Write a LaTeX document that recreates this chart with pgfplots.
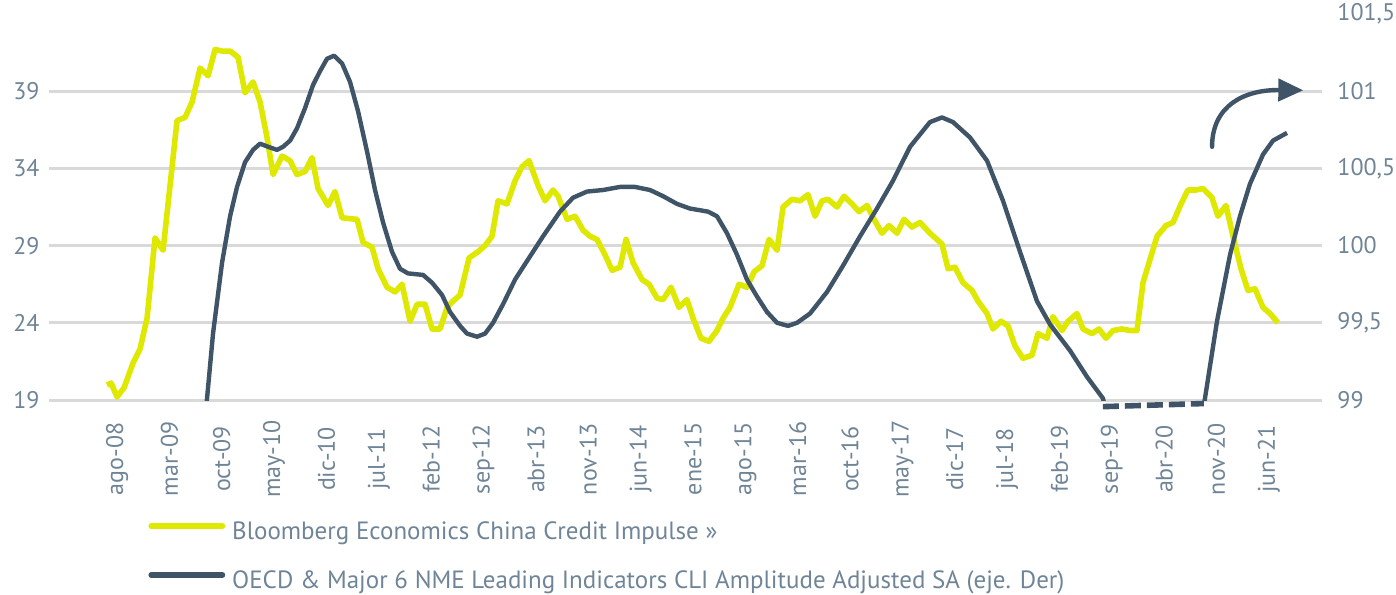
\documentclass[border=0pt]{standalone}
\usepackage{pgfplots}
\pgfplotsset{compat=1.18}
\usepackage{fontspec}
\setmainfont{PT Sans}
\usetikzlibrary{arrows.meta}

\definecolor{impulse}{RGB}{222,232,0}
\definecolor{cli}{RGB}{64,84,104}
\definecolor{gridc}{RGB}{217,217,217}
\definecolor{labc}{RGB}{111,133,151}

% month index: 0 = ago-08
\pgfplotstableread{
x y
-1.34 19.96
-0.80 20.1
0.00 19.2
0.94 19.8
2.14 21.4
3.07 22.3
4.01 24.3
5.08 29.5
6.15 28.7
6.82 31.7
8.02 37.1
9.09 37.3
10.03 38.3
11.10 40.5
12.17 40.0
13.10 41.7
14.04 41.6
15.11 41.6
16.18 41.2
17.11 38.9
18.18 39.6
19.12 38.3
20.05 36.0
20.86 33.6
22.06 34.8
23.13 34.5
24.06 33.6
25.13 33.8
26.07 34.7
26.87 32.7
28.21 31.6
29.14 32.5
30.08 30.8
32.09 30.7
32.89 29.2
34.09 28.9
34.89 27.5
36.10 26.3
37.17 26.0
38.10 26.5
39.17 24.1
40.11 25.2
41.18 25.2
42.11 23.6
43.18 23.6
44.12 25.0
44.90 25.4
45.86 25.8
47.06 28.2
48.26 28.6
49.20 29.0
50.13 29.6
50.94 31.9
52.14 31.7
53.21 33.2
54.14 34.1
55.08 34.5
56.28 32.9
57.22 31.9
58.29 32.6
58.96 32.2
60.16 30.7
61.23 30.9
62.30 30.0
63.24 29.6
64.17 29.4
65.24 28.4
66.18 27.4
67.25 27.6
68.05 29.4
68.98 27.9
70.19 26.8
71.12 26.5
72.19 25.6
73.00 25.5
74.06 26.3
75.13 25.0
76.20 25.5
77.01 24.3
78.07 23.0
79.14 22.8
80.21 23.5
81.02 24.3
81.95 25.0
83.16 26.5
84.22 26.3
85.16 27.3
86.23 27.7
87.17 29.4
88.24 28.7
89.04 31.5
90.24 32.0
91.31 31.9
92.38 32.3
93.32 30.9
94.25 31.9
95.05 32.0
96.26 31.5
97.19 32.2
98.26 31.7
99.20 31.2
100.27 31.6
101.20 30.7
102.27 29.8
103.21 30.3
104.28 29.8
105.21 30.7
106.28 30.2
107.35 30.5
108.69 29.8
110.29 29.1
111.10 27.5
112.03 27.6
113.10 26.6
114.30 26.1
115.11 25.4
116.31 24.6
117.11 23.6
118.18 24.1
119.12 23.8
120.05 22.5
121.12 21.7
122.33 21.9
123.13 23.3
124.33 23.0
125.13 24.4
126.34 23.5
127.14 24.1
128.34 24.6
129.14 23.6
130.35 23.3
131.28 23.6
132.22 23.0
133.16 23.5
134.36 23.6
135.43 23.5
136.36 23.5
137.17 26.6
138.10 28.1
139.04 29.6
140.24 30.3
141.18 30.5
142.25 31.7
143.18 32.6
144.25 32.6
145.19 32.7
146.39 32.1
147.19 30.9
148.26 31.6
149.20 29.6
150.27 27.5
151.20 26.1
152.14 26.2
153.21 25.0
154.14 24.6
155.21 24.0
}\impulsedata

\pgfplotstableread{
x y
11.76 98.90
12.03 99.01
12.83 99.43
14.04 99.89
15.11 100.19
16.04 100.38
17.11 100.54
18.18 100.62
19.12 100.66
20.19 100.64
21.39 100.62
22.19 100.64
23.13 100.68
24.06 100.76
25.13 100.89
26.20 101.04
27.14 101.13
28.07 101.21
29.01 101.23
30.08 101.18
31.15 101.06
32.22 100.87
33.42 100.61
34.49 100.36
35.56 100.15
36.76 99.96
37.83 99.85
38.90 99.82
40.91 99.81
42.11 99.76
43.45 99.68
44.52 99.57
45.86 99.48
46.79 99.43
48.13 99.41
49.20 99.43
50.27 99.50
51.60 99.62
53.21 99.78
54.81 99.90
56.95 100.06
59.22 100.22
60.96 100.31
62.83 100.35
64.97 100.36
67.25 100.38
69.25 100.38
71.26 100.36
73.00 100.32
74.87 100.27
76.60 100.24
79.01 100.22
80.21 100.19
81.55 100.08
82.89 99.94
84.22 99.78
85.56 99.67
86.90 99.57
88.24 99.50
89.71 99.48
90.91 99.50
92.65 99.56
94.92 99.70
97.06 99.87
99.33 100.06
101.60 100.24
103.74 100.42
106.02 100.64
107.35 100.72
108.69 100.80
110.29 100.83
111.76 100.80
114.04 100.70
116.31 100.55
118.45 100.29
120.72 99.96
122.99 99.64
124.73 99.49
127.41 99.32
129.68 99.15
131.82 99.01
132.75 98.80
138.00 98.40
144.00 98.70
144.79 98.85
145.45 99.01
147.06 99.51
148.80 99.94
150.13 100.19
151.47 100.40
153.21 100.59
154.55 100.68
156.42 100.73
}\clidata

\begin{document}
\begin{tikzpicture}
\pgfplotsset{
  every axis/.append style={
    width=636.5pt, height=193pt, scale only axis,
    xmin=-9.1, xmax=161.1,
    axis line style={draw=none},
    major tick length=0pt,
    tick label style={font=\fontsize{12}{14}\selectfont, text=labc},
  },
}
\begin{axis}[
  name=ax,
  ymin=19, ymax=44,
  ytick={19,24,29,34,39},
  yticklabels={19,24,29,34,39},
  yticklabel style={anchor=west, inner sep=0pt, xshift=-18pt},
  ymajorgrids,
  grid style={gridc, line width=1.5pt},
  xtick={0,7,...,154},
  xticklabels={ago-08,mar-09,oct-09,may-10,dic-10,jul-11,feb-12,sep-12,abr-13,nov-13,jun-14,ene-15,ago-15,mar-16,oct-16,may-17,dic-17,jul-18,feb-19,sep-19,abr-20,nov-20,jun-21},
  xticklabel style={rotate=90, anchor=center, inner sep=0pt},
  xticklabel shift=29.5pt,
  legend image code/.code={\draw[#1, line cap=round] (1.4pt,4pt) -- (37pt,4pt);},
  legend style={draw=none, fill=none, inner sep=0pt,
    at={(axis description cs:0.0778,-0.4106)}, anchor=west,
    font=\fontsize{12.5}{14}\selectfont, text=labc,
    nodes={inner sep=0pt, text height=8.5pt, text depth=2.5pt},
    row sep=13.5pt, column sep=3.5pt,
    legend cell align=left},
]
\addplot[impulse, line width=2.8pt, line join=round] table[x=x, y=y] {\impulsedata};
\addlegendentry{Bloomberg Economics China Credit Impulse »}
\addlegendimage{cli, line width=2.8pt}
\addlegendentry{OECD \& Major 6 NME Leading Indicators CLI Amplitude Adjusted SA (eje. Der)}
\end{axis}

\begin{axis}[
  ymin=99, ymax=101.5,
  hide x axis,
  axis y line*=right,
  ytick={99,99.5,100,100.5,101,101.5},
  yticklabels={99,{99,5},100,{100,5},101,{101,5}},
  yticklabel style={anchor=west, inner sep=0pt, xshift=7.5pt},
  clip mode=individual,
]
\addplot[cli, line width=2.2pt, line join=round] table[x=x, y=y] {\clidata};
\draw[cli, line width=2.8pt, dash pattern=on 8pt off 3pt]
  (axis cs:131.8,98.957) -- (axis cs:145.3,98.977);
\draw[cli, line width=2.2pt, line cap=round, -{Triangle[length=12.5pt, width=11pt]}]
  (axis cs:146.4,100.64) .. controls (axis cs:146.4,100.91) and (axis cs:150.8,101.01) .. (axis cs:158.6,101.006);
\end{axis}

\pgfresetboundingbox
\path[use as bounding box] ([shift={(-24.5pt,-97pt)}]ax.south west) rectangle ([shift={(37pt,7pt)}]ax.north east);
\end{tikzpicture}
\end{document}
